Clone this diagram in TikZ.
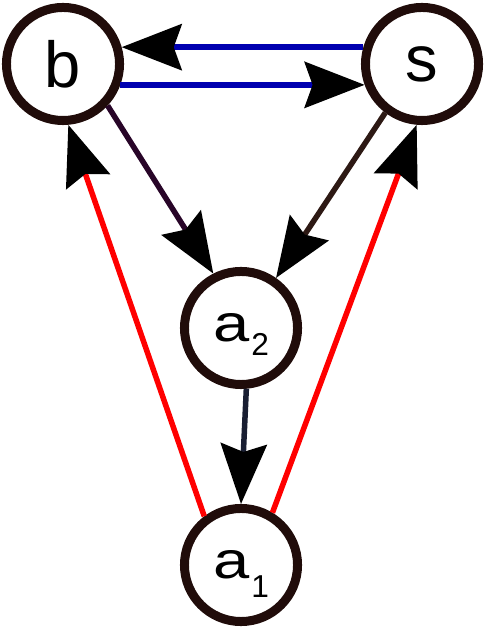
\documentclass[tikz,border=0pt]{standalone}
\usepackage{fontspec}
\setmainfont{Liberation Sans}
\usepackage{xcolor}
\usepackage{graphicx}
\usetikzlibrary{arrows.meta}

\definecolor{ringbrown}{RGB}{32,12,10}
\definecolor{edgeblue}{RGB}{0,0,176}
\definecolor{edgered}{RGB}{255,0,0}
\definecolor{edgeplum}{RGB}{40,5,40}
\definecolor{edgebrown}{RGB}{45,25,20}
\definecolor{edgenavy}{RGB}{25,30,50}

\begin{document}
\begin{tikzpicture}[x=0.01cm, y=0.01cm,
			->,
			>={Stealth[length=0.6cm, width=0.46cm, inset=0.08cm, color=black]},
			state/.style={circle, draw=ringbrown, line width=0.09cm, minimum size=1.13cm, inner sep=0pt, font=\fontsize{18.5}{20}\selectfont},
			edge/.style={line width=0.055cm}]

			\useasboundingbox (0,0) rectangle (485,628);

			\node[state] (b) at (63,564) {b};
			\node[state] (s) at (422,564) {s};
			\node[state] (a2) at (241,300) {\scalebox{1}[0.8]{a}\kern0.02cm\raisebox{-0.14cm}[0pt][0pt]{\fontsize{9}{10}\selectfont 2}};
			\node[state] (a1) at (241,63) {\scalebox{1}[0.8]{a}\kern0.02cm\raisebox{-0.19cm}[0pt][0pt]{\fontsize{9}{10}\selectfont 1}};

			\draw[edge, edgeblue] (s.164) -- (b.16);
			\draw[edge, edgeblue] (b.-20) -- (s.200);
			\draw[edge, edgeplum] (b.-43) -- (a2.117);
			\draw[edge, edgebrown] (s.-127) -- (a2.55);
			\draw[edge, edgenavy] (a2.-85) -- (a1.90);
			\draw[edge, edgered] (a1.127) -- (b.-85);
			\draw[edge, edgered] (a1.59) -- (s.-95);
		\end{tikzpicture}
\end{document}
